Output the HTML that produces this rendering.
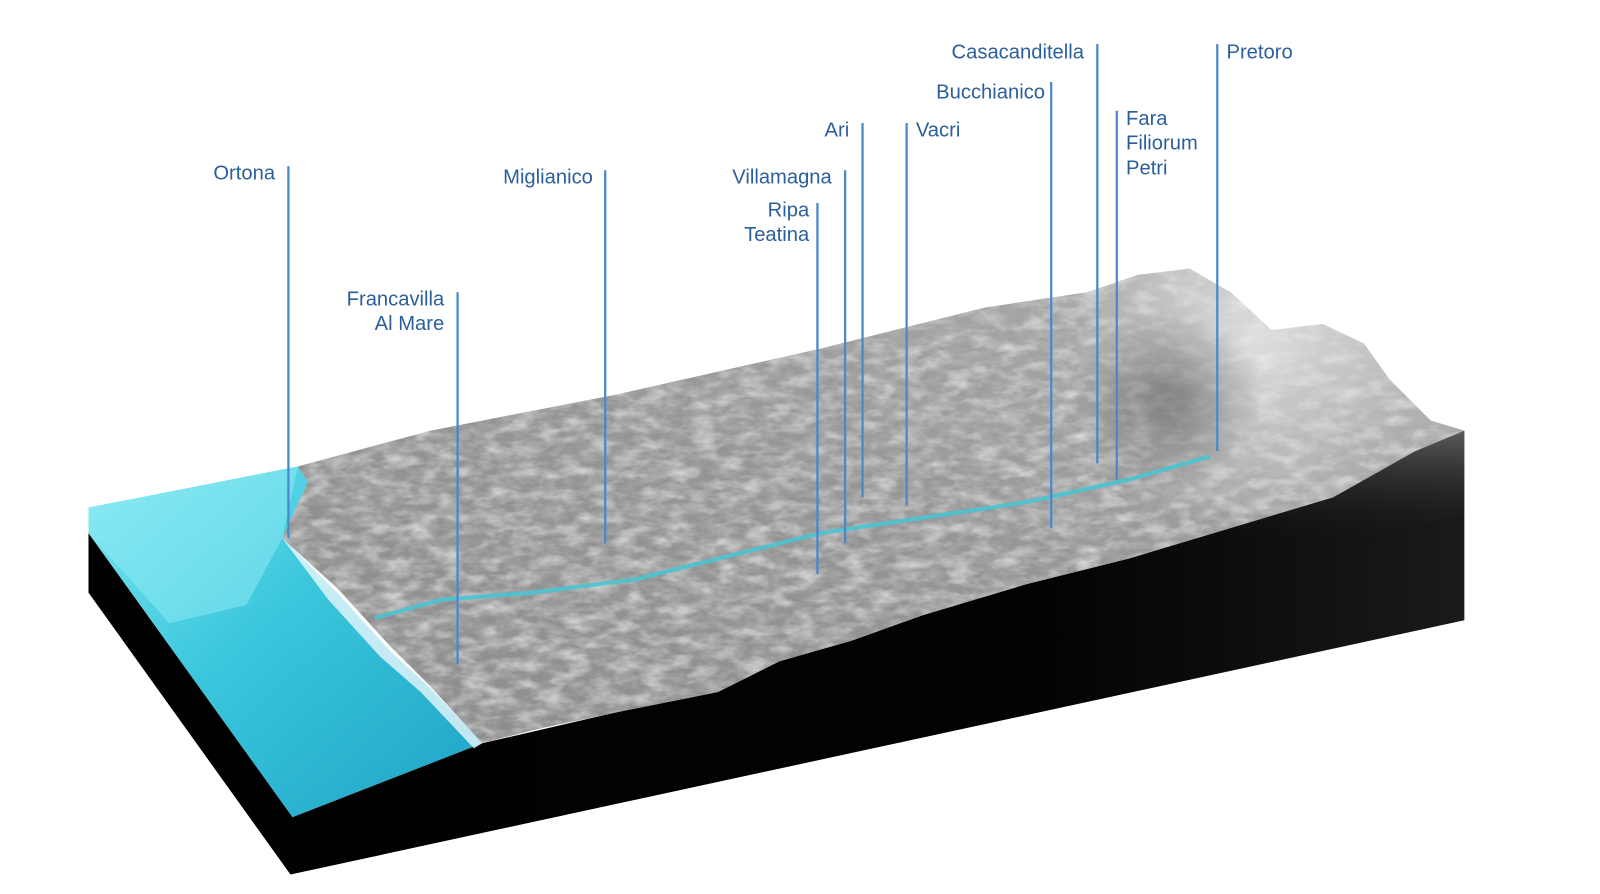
<!DOCTYPE html>
<html><head><meta charset="utf-8"><style>
html,body{margin:0;padding:0;background:#fff;}
svg{display:block;}
text{font-family:"Liberation Sans",sans-serif;font-size:19.7px;fill:#2b5f9c;}
</style></head><body>
<svg width="1600" height="894" viewBox="0 0 1560 872" xmlns="http://www.w3.org/2000/svg">
<defs>
<linearGradient id="face" x1="0" y1="0" x2="1" y2="0">
<stop offset="0" stop-color="#000"/><stop offset="0.7" stop-color="#030303"/><stop offset="1" stop-color="#1a1a1a"/>
</linearGradient>
<linearGradient id="faceTop" x1="0" y1="0" x2="0" y2="1">
<stop offset="0" stop-color="#888" stop-opacity="0.6"/><stop offset="1" stop-color="#000" stop-opacity="0"/>
</linearGradient>
<linearGradient id="land" x1="0" y1="1" x2="1" y2="0">
<stop offset="0" stop-color="#8c8c8c"/><stop offset="0.5" stop-color="#959595"/><stop offset="0.8" stop-color="#a5a5a5"/><stop offset="1" stop-color="#c8c8c8"/>
</linearGradient>
<radialGradient id="mtn" cx="1230" cy="330" r="200" gradientUnits="userSpaceOnUse">
<stop offset="0" stop-color="#eeeeee" stop-opacity="0.75"/><stop offset="0.6" stop-color="#dddddd" stop-opacity="0.35"/><stop offset="1" stop-color="#cccccc" stop-opacity="0"/>
</radialGradient>
<radialGradient id="mtnShade" cx="1140" cy="390" r="90" gradientUnits="userSpaceOnUse">
<stop offset="0" stop-color="#333" stop-opacity="0.45"/><stop offset="1" stop-color="#333" stop-opacity="0"/>
</radialGradient>
<linearGradient id="sea" x1="0" y1="0" x2="1" y2="1">
<stop offset="0" stop-color="#7fe6f2"/><stop offset="0.45" stop-color="#3ac6dc"/><stop offset="1" stop-color="#1ea3c6"/>
</linearGradient>
<filter id="tex" x="0" y="0" width="100%" height="100%">
<feTurbulence type="fractalNoise" baseFrequency="0.06 0.14" numOctaves="4" seed="3"/>
<feColorMatrix type="matrix" values="0 0 0 0 0.45  0 0 0 0 0.45  0 0 0 0 0.45  2 0 0 0 -0.7"/>
</filter>
<filter id="tex2" x="0" y="0" width="100%" height="100%">
<feTurbulence type="fractalNoise" baseFrequency="0.04 0.09" numOctaves="3" seed="9"/>
<feColorMatrix type="matrix" values="0 0 0 0 1  0 0 0 0 1  0 0 0 0 1  2 0 0 0 -0.85"/>
</filter>
<clipPath id="landclip"><path id="landp" d="M290,455 L420,420 L600,385 L800,340 L960,300 L1060,285 L1110,268 L1160,262 L1200,285 L1240,322 L1290,316 L1330,335 L1355,370 L1395,410 L1428,420 L1380,440 L1300,485 L1200,515 L1100,545 L1000,570 L900,600 L830,625 L760,645 L700,675 L600,695 L520,712 L470,725 L420,670 L380,630 L330,575 L275,525 L300,470 Z"/></clipPath>
</defs>
<path d="M86,520 L285,797 L470,725 L600,695 L700,675 L760,645 L830,625 L900,600 L1000,570 L1100,545 L1200,515 L1300,485 L1380,440 L1428,420 L1428,605 L283,853 L86,578 Z" fill="url(#face)"/>
<path d="M1200,515 L1300,485 L1380,440 L1428,420 L1428,500 L1300,540 Z" fill="url(#faceTop)"/>
<use href="#landp" fill="url(#land)"/>
<g clip-path="url(#landclip)">
<rect x="250" y="250" width="1200" height="500" filter="url(#tex)" opacity="0.8"/>
<rect x="250" y="250" width="1200" height="500" filter="url(#tex2)" opacity="0.6"/>
<rect x="1000" y="240" width="450" height="260" fill="url(#mtn)"/>
<rect x="1040" y="300" width="200" height="180" fill="url(#mtnShade)"/>
</g>
<path d="M365,603 L430,585 L520,578 L620,565 L700,545 L800,520 L900,505 L1000,490 L1100,468 L1180,445" fill="none" stroke="#49c4d2" stroke-width="4" opacity="0.9"/>
<path d="M86,495 L290,455 L300,470 L275,525 L330,580 L380,635 L420,672 L470,725 L285,797 L86,520 Z" fill="url(#sea)"/>
<path d="M86,495 L290,455 L275,525 L240,590 L165,608 L86,520 Z" fill="#9af0f7" opacity="0.45"/>
<path d="M275,525 L330,580 L380,635 L420,672 L470,725 L462,730 L410,675 L370,640 L320,585 Z" fill="#eaf8fb" opacity="0.8"/>
<g stroke="#4a88c9" stroke-width="2.2">
<line x1="281" y1="162" x2="281" y2="525"/>
<line x1="446" y1="285" x2="446" y2="648"/>
<line x1="590" y1="166" x2="590" y2="530"/>
<line x1="824" y1="166" x2="824" y2="530"/>
<line x1="797" y1="198" x2="797" y2="560"/>
<line x1="841" y1="120" x2="841" y2="485"/>
<line x1="884" y1="120" x2="884" y2="493"/>
<line x1="1025" y1="80" x2="1025" y2="515"/>
<line x1="1070" y1="43" x2="1070" y2="452"/>
<line x1="1089" y1="108" x2="1089" y2="468"/>
<line x1="1187" y1="43" x2="1187" y2="440"/>
</g>
<g text-anchor="end">
<text x="268" y="175">Ortona</text>
<text x="433" y="298">Francavilla</text>
<text x="433" y="322">Al Mare</text>
<text x="578" y="179">Miglianico</text>
<text x="811" y="179">Villamagna</text>
<text x="789" y="211">Ripa</text>
<text x="789" y="235">Teatina</text>
<text x="828" y="133">Ari</text>
<text x="1019" y="96">Bucchianico</text>
<text x="1057" y="57">Casacanditella</text>
</g>
<text x="893" y="133">Vacri</text>
<text x="1098" y="122">Fara</text>
<text x="1098" y="146">Filiorum</text>
<text x="1098" y="170">Petri</text>
<text x="1196" y="57">Pretoro</text>
</svg>
</body></html>
